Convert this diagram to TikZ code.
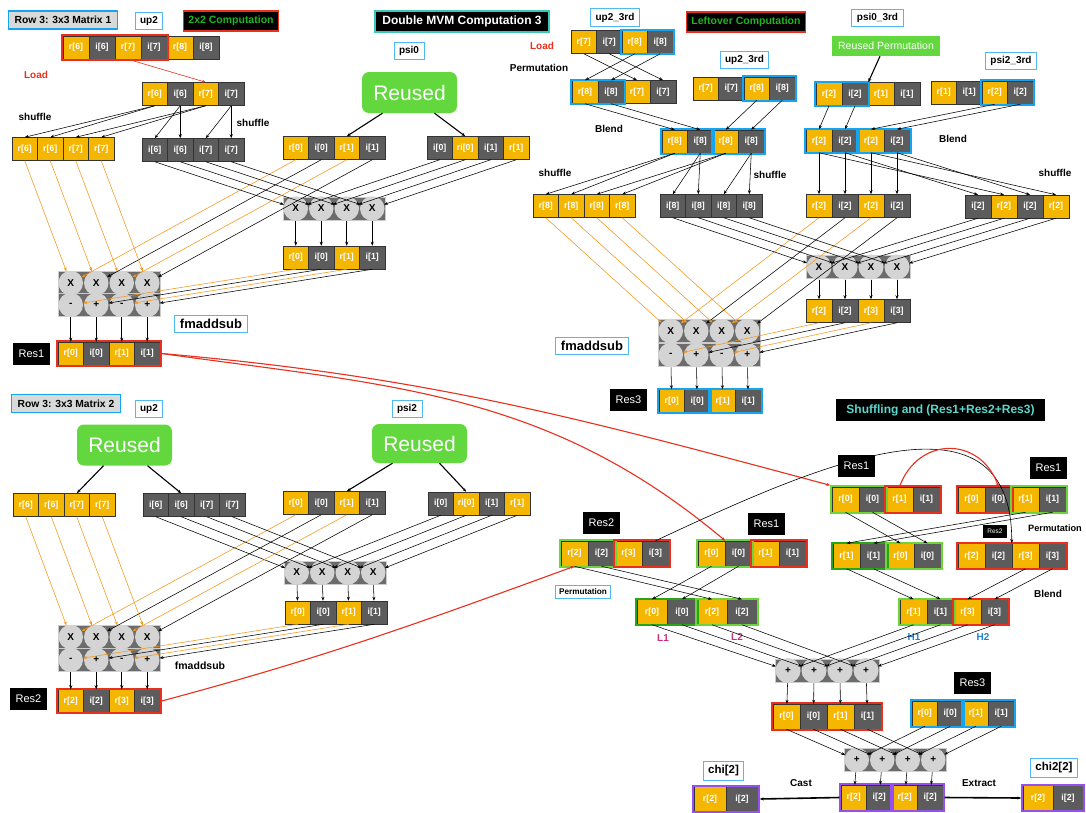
\documentclass[tikz,border=0pt]{standalone}
\usepackage{fontspec}
\setmainfont{Liberation Sans}
\usetikzlibrary{arrows.meta,fit}

\definecolor{ylw}{RGB}{245,182,0}
\definecolor{gry}{RGB}{92,92,92}
\definecolor{opgray}{RGB}{108,108,108}
\definecolor{circgray}{RGB}{212,212,212}
\definecolor{lblue}{RGB}{80,185,240}
\definecolor{bblue}{RGB}{20,165,240}
\definecolor{rred}{RGB}{232,48,28}
\definecolor{lgreen}{RGB}{110,212,60}
\definecolor{dgreen}{RGB}{40,165,25}
\definecolor{purp}{RGB}{150,80,240}
\definecolor{rgreen}{RGB}{98,216,62}
\definecolor{orng}{RGB}{245,150,25}
\definecolor{tealc}{RGB}{60,200,185}
\definecolor{tealtx}{RGB}{90,216,204}
\definecolor{ggreen}{RGB}{30,180,30}
\definecolor{mgnt}{RGB}{200,48,126}
\definecolor{hblue}{RGB}{30,128,208}

\newcommand{\cellh}{23pt}
\newcommand{\regrow}[5][25.5]{%
  \foreach \clr/\lbl [count=\k] in {#5}
    {\node[cell, fill=\clr, minimum width=#1pt] (#2-\k) at ({#3+(\k-0.5)*#1}, #4) {\lbl};}}
\newcommand{\opblock}[5][25.5]{%
  \node[opbg, minimum width=4*#1pt] (#2) at ({#3+2*#1}, #4) {};
  \foreach \sym [count=\k] in {#5}
    {\node[opcirc, minimum size=#1pt-1pt] (#2-\k) at ({#3+(\k-0.5)*#1}, #4) {\sym};}}

\begin{document}
\begin{tikzpicture}
        [x=1pt, y=-1pt, >={Stealth[length=4pt,width=3pt]},
         cell/.style={draw=black!80, line width=0.5pt, text=white, inner sep=0pt,
           minimum height=\cellh, font=\bfseries\fontsize{8.8}{9}\selectfont},
         opbg/.style={fill=opgray, draw=black!20, line width=0.8pt, inner sep=0pt, minimum height=23pt},
         opcirc/.style={circle, fill=circgray, inner sep=0pt, font=\bfseries\fontsize{10}{10}\selectfont},
         tag/.style={draw=lblue, line width=1pt, fill=white, inner xsep=5pt, inner ysep=4pt,
           font=\bfseries\fontsize{10}{11}\selectfont},
         hdrg/.style={draw=bblue, line width=1.5pt, fill=black!15, inner xsep=6pt, inner ysep=5pt,
           font=\bfseries\fontsize{10.3}{11}\selectfont},
         hdr/.style={fill=black, line width=1.5pt, inner xsep=5pt, inner ysep=5pt,
           font=\bfseries\fontsize{10.5}{11}\selectfont},
         resl/.style={fill=black, text=white, inner sep=3pt, minimum width=37pt, minimum height=22pt,
           font=\fontsize{11}{12}\selectfont},
         reuse/.style={fill=rgreen, rounded corners=7pt, text=white, minimum width=95pt,
           minimum height=41pt, font=\fontsize{21}{22}\selectfont},
         note/.style={font=\bfseries\fontsize{10}{11}\selectfont},
         grp/.style={draw=#1, line width=1.8pt, inner sep=0.5pt},
         arr/.style={->, line width=0.55pt},
         sharr/.style={->, line width=1.1pt},
         rarr/.style={->, draw=rred, line width=1.1pt},
         bigarr/.style={->, line width=1.6pt}]
        \path[use as bounding box, fill=white] (0,0) rectangle (1086,812);

        \node[hdrg] (h-m1) at (63,20) {Row 3: 3x3 Matrix 1};
        \node[tag] (t-up2a) at (149,21) {up2};
        \node[hdr, draw=rred, text=ggreen] (h-2x2) at (231,21) {2x2 Computation};
        \regrow[26]{t0}{63}{47.5}{ylw/r[6],gry/i[6],ylw/r[7],gry/i[7],ylw/r[8],gry/i[8]}
        \node[grp=rred, fit=(t0-1)(t0-4)] (t0b) {};
        \node[note, text=rred] (load1) at (36,75) {Load};
        \regrow{a2}{142}{94}{ylw/r[6],gry/i[6],ylw/r[7],gry/i[7]}
        \node[note] (shf1) at (35,117) {shuffle};
        \node[note] (shf2) at (253,123) {shuffle};
        \regrow{y1}{12}{149}{ylw/r[6],ylw/r[6],ylw/r[7],ylw/r[7]}
        \regrow{g1}{142}{150}{gry/i[6],gry/i[6],gry/i[7],gry/i[7]}
        \node[tag] (t-psi0) at (409,51) {psi0};
        \node[reuse] (ru1) at (409.5,92.5) {Reused};
        \regrow{p1}{283}{148}{ylw/r[0],gry/i[0],ylw/r[1],gry/i[1]}
        \regrow{q1}{427}{148}{gry/i[0],ylw/ri[0],gry/i[1],ylw/r[1]}
        \opblock{m1}{283}{208.5}{X,X,X,X}
        \regrow{r1}{283}{257.5}{ylw/r[0],gry/i[0],ylw/r[1],gry/i[1]}
        \opblock{fx1}{58}{283}{X,X,X,X}
        \opblock{fs1}{58}{305}{-,+,-,+}
        \regrow{res1}{58}{353.5}{ylw/r[0],gry/i[0],ylw/r[1],gry/i[1]}
        \node[grp=rred, fit=(res1-1)(res1-4)] (res1b) {};
        \node[resl] (l-res1a) at (31.5,354) {Res1};
        \node[tag, inner xsep=5.5pt, font=\bfseries\fontsize{13}{14}\selectfont] (t-fma1) at (211,324) {fmaddsub};

        \draw[rarr, line width=0.6pt] (t0-3.south) -- (a2-3.north);
        \foreach \s/\t in {1/1,1/2,3/3,3/4} {\draw[arr] (a2-\s.south) -- (y1-\t.north);}
        \foreach \s/\t in {2/1,2/2,4/3,4/4} {\draw[arr] (a2-\s.south) -- (g1-\t.north);}
        \draw[sharr] ([xshift=-27pt]ru1.south) -- (p1-3.north);
        \draw[sharr] ([xshift=25pt]ru1.south) -- (q1-2.north);
        \foreach \k/\clr in {1/orng,2/black,3/orng,4/black} {
          \draw[arr, orng] (y1-\k.south) -- (fx1-\k);
          \draw[arr, \clr] (p1-\k.south) -- (fx1-\k);
          \draw[arr] (g1-\k.south) -- (m1-\k);
          \draw[arr] (q1-\k.south) -- (m1-\k);
          \draw[arr] (m1-\k) -- (r1-\k);
          \draw[arr, \clr] (r1-\k.south) -- (fs1-\k);
          \draw[arr] (fs1-\k) -- (res1-\k);
        }

        \node[hdrg] (h-m2) at (66,403.5) {Row 3: 3x3 Matrix 2};
        \node[tag] (t-up2b) at (149,409) {up2};
        \node[reuse] (ru2) at (124.5,445) {Reused};
        \node[tag] (t-psi2) at (407,409) {psi2};
        \node[reuse, minimum height=39pt] (ru3) at (419.5,443.5) {Reused};
        \regrow{y2}{13}{505}{ylw/r[6],ylw/r[6],ylw/r[7],ylw/r[7]}
        \regrow{g2}{143}{505}{gry/i[6],gry/i[6],gry/i[7],gry/i[7]}
        \regrow{p2}{283}{503}{ylw/r[0],gry/i[0],ylw/r[1],gry/i[1]}
        \regrow{q2}{428}{503.5}{gry/i[0],ylw/ri[0],gry/i[1],ylw/r[1]}
        \opblock{m2}{284}{572.5}{X,X,X,X}
        \regrow{r2}{285}{612.5}{ylw/r[0],gry/i[0],ylw/r[1],gry/i[1]}
        \opblock{fx2}{58}{637}{X,X,X,X}
        \opblock{fs2}{58}{660}{-,+,-,+}
        \regrow{res2}{58}{701}{ylw/r[2],gry/i[2],ylw/r[3],gry/i[3]}
        \node[grp=rred, fit=(res2-1)(res2-4)] (res2b) {};
        \node[resl] (l-res2a) at (28.5,699) {Res2};
        \node[note, font=\bfseries\fontsize{10.5}{11}\selectfont] (fma2) at (200,666) {fmaddsub};

        \draw[sharr] ([xshift=-21pt]ru2.south) -- (y2-3.north);
        \draw[sharr] ([xshift=23pt]ru2.south) -- (g2-2.north);
        \draw[sharr] ([xshift=-27pt]ru3.south) -- (p2-3.north);
        \draw[sharr] ([xshift=20pt]ru3.south) -- (q2-2.north);
        \foreach \k/\clr in {1/orng,2/black,3/orng,4/black} {
          \draw[arr, orng] (y2-\k.south) -- (fx2-\k);
          \draw[arr, \clr] (p2-\k.south) -- (fx2-\k);
          \draw[arr] (g2-\k.south) -- (m2-\k);
          \draw[arr] (q2-\k.south) -- (m2-\k);
          \draw[arr] (m2-\k) -- (r2-\k);
          \draw[arr, \clr] (r2-\k.south) -- (fs2-\k);
          \draw[arr] (fs2-\k) -- (res2-\k);
        }

        \node[hdr, draw=tealc, text=white, inner xsep=7.5pt, font=\bfseries\fontsize{12}{13}\selectfont] (h-dmvm) at (462,21.5) {Double MVM Computation 3};
        \node[tag] (t-up2c) at (615,17.5) {up2\_3rd};
        \node[hdr, draw=rred, text=ggreen] (h-left) at (746,22) {Leftover Computation};
        \node[note, text=rred] (load2) at (542,46) {Load};
        \node[note] (perm1) at (539,68) {Permutation};
        \regrow{u1}{571}{42}{ylw/r[7],gry/i[7],ylw/r[8],gry/i[8]}
        \node[grp=bblue, fit=(u1-3)(u1-4)] (u1b) {};
        \regrow[26]{u2}{572}{92}{ylw/r[8],gry/i[8],ylw/r[7],gry/i[7]}
        \node[grp=bblue, fit=(u2-1)(u2-2)] (u2b) {};
        \node[tag] (t-up2d) at (744.5,60) {up2\_3rd};
        \regrow{u3}{693}{88.5}{ylw/r[7],gry/i[7],ylw/r[8],gry/i[8]}
        \node[grp=bblue, fit=(u3-3)(u3-4)] (u3b) {};
        \node[note] (blend1) at (609,129) {Blend};
        \regrow{b8}{662}{141.5}{ylw/r[8],gry/i[8],ylw/r[8],gry/i[8]}
        \node[grp=bblue, fit=(b8-1)(b8-2)] (b8a) {};
        \node[grp=bblue, fit=(b8-3)(b8-4)] (b8b) {};
        \node[note] (shf3) at (555,173) {shuffle};
        \node[note] (shf4) at (770,175) {shuffle};
        \regrow{y3}{533}{206}{ylw/r[8],ylw/r[8],ylw/r[8],ylw/r[8]}
        \regrow{g3}{660}{206}{gry/i[8],gry/i[8],gry/i[8],gry/i[8]}
        \node[tag] (t-psi0c) at (877.5,18) {psi0\_3rd};
        \node[fill=rgreen, text=white, minimum width=108pt, minimum height=20pt, inner sep=0pt,
          font=\fontsize{10.5}{11}\selectfont] (ru4) at (886,46) {Reused Permutation};
        \regrow[26]{v1}{816}{94}{ylw/r[2],gry/i[2],ylw/r[1],gry/i[1]}
        \node[grp=bblue, fit=(v1-1)(v1-2)] (v1b) {};
        \node[tag] (t-psi2c) at (1011,61) {psi2\_3rd};
        \regrow{v2}{931}{92.5}{ylw/r[1],gry/i[1],ylw/r[2],gry/i[2]}
        \node[grp=bblue, fit=(v2-3)(v2-4)] (v2b) {};
        \regrow[26]{b2}{806}{141}{ylw/r[2],gry/i[2],ylw/r[2],gry/i[2]}
        \node[grp=bblue, fit=(b2-1)(b2-2)] (b2a) {};
        \node[grp=bblue, fit=(b2-3)(b2-4)] (b2b) {};
        \node[note] (blend2) at (953,139) {Blend};
        \node[note] (shf5) at (1055,173) {shuffle};
        \regrow[26]{w1}{806}{206}{ylw/r[2],gry/i[2],ylw/r[2],gry/i[2]}
        \regrow[26]{w2}{965}{206.5}{gry/i[2],ylw/r[2],gry/i[2],ylw/r[2]}
        \opblock[26]{m3}{806}{267}{X,X,X,X}
        \regrow[26]{r3}{806}{311}{ylw/r[2],gry/i[2],ylw/r[3],gry/i[3]}
        \opblock{fx3}{658}{331}{X,X,X,X}
        \opblock{fs3}{658}{355}{-,+,-,+}
        \regrow{res3}{659}{401}{ylw/r[0],gry/i[0],ylw/r[1],gry/i[1]}
        \node[grp=bblue, fit=(res3-1)(res3-2)] (res3a) {};
        \node[grp=bblue, fit=(res3-3)(res3-4)] (res3b) {};
        \node[resl] (l-res3a) at (628.5,400) {Res3};
        \node[tag, inner xsep=5.5pt, font=\bfseries\fontsize{13}{14}\selectfont] (t-fma3) at (592,346) {fmaddsub};

        \foreach \s/\t in {1/3,2/4,3/1,4/2} {\draw[arr] (u1-\s.south) -- (u2-\t.north);}
        \draw[arr] (u2-1.south) -- (b8-1.north);
        \draw[arr] (u2-2.south) -- (b8-2.north);
        \draw[arr] (u3-3.south) -- (b8-3.north);
        \draw[arr] (u3-4.south) -- (b8-4.north);
        \foreach \s/\t in {1/1,1/2,3/3,3/4} {\draw[arr] (b8-\s.south) -- (y3-\t.north);}
        \foreach \s/\t in {2/1,2/2,4/3,4/4} {\draw[arr] (b8-\s.south) -- (g3-\t.north);}
        \draw[sharr] ([xshift=-6pt]ru4.south) -- (v1-2.north east);
        \draw[arr] (v1-1.south) -- (b2-1.north);
        \draw[arr] (v1-2.south) -- (b2-2.north);
        \draw[arr] (v2-3.south) -- (b2-3.north);
        \draw[arr] (v2-4.south) -- (b2-4.north);
        \foreach \k in {1,...,4} {\draw[arr] (b2-\k.south) -- (w1-\k.north);}
        \foreach \s/\t in {1/2,2/1,3/4,4/3} {\draw[arr] (b2-\s.south) -- (w2-\t.north);}
        \foreach \k/\clr in {1/orng,2/black,3/orng,4/black} {
          \draw[arr, orng] (y3-\k.south) -- (fx3-\k);
          \draw[arr, \clr] (w1-\k.south) -- (fx3-\k);
          \draw[arr] (g3-\k.south) -- (m3-\k);
          \draw[arr] (w2-\k.south) -- (m3-\k);
          \draw[arr] (m3-\k) -- (r3-\k);
          \draw[arr, \clr] (r3-\k.south) -- (fs3-\k);
          \draw[arr] (fs3-\k) -- (res3-\k);
        }

        \renewcommand{\cellh}{25pt}
        \node[hdr, text=tealtx, inner xsep=10pt, font=\bfseries\fontsize{12}{13}\selectfont] (h-shuf) at (940.5,410) {Shuffling and (Res1+Res2+Res3)};
        \node[resl] (l-res1b) at (856.5,466) {Res1};
        \regrow[27]{s1}{832}{499.5}{ylw/r[0],gry/i[0],ylw/r[1],gry/i[1]}
        \node[grp=lgreen, fit=(s1-1)(s1-2)] (s1a) {};
        \node[grp=rred, fit=(s1-3)(s1-4)] (s1b) {};
        \node[resl] (l-res1c) at (1048.5,468) {Res1};
        \regrow[27]{s2}{958}{499.5}{ylw/r[0],gry/i[0],ylw/r[1],gry/i[1]}
        \node[grp=rred, fit=(s2-1)(s2-2)] (s2a) {};
        \node[grp=lgreen, fit=(s2-3)(s2-4)] (s2b) {};
        \node[resl] (l-res2b) at (601.5,523) {Res2};
        \regrow[27]{e2}{561}{553.5}{ylw/r[2],gry/i[2],ylw/r[3],gry/i[3]}
        \node[grp=lgreen, fit=(e2-1)(e2-2)] (e2a) {};
        \node[grp=rred, fit=(e2-3)(e2-4)] (e2b) {};
        \node[resl] (l-res1d) at (766.5,524) {Res1};
        \regrow[27]{e1}{698}{553.5}{ylw/r[0],gry/i[0],ylw/r[1],gry/i[1]}
        \node[grp=lgreen, fit=(e1-1)(e1-2)] (e1a) {};
        \node[grp=rred, fit=(e1-3)(e1-4)] (e1b) {};
        \regrow[27]{dl}{833}{556}{ylw/r[1],gry/i[1],ylw/r[0],gry/i[0]}
        \node[grp=dgreen, fit=(dl-1)(dl-2)] (dla) {};
        \node[grp=lgreen, fit=(dl-3)(dl-4)] (dlb) {};
        \regrow[27]{dr}{958}{556}{ylw/r[2],gry/i[2],ylw/r[3],gry/i[3]}
        \node[grp=rred, fit=(dr-1)(dr-4)] (drb) {};
        \node[resl, minimum width=24pt, minimum height=13pt, inner sep=1.5pt, font=\fontsize{6.5}{7}\selectfont] (l-res2c) at (995,531.5) {Res2};
        \node[note, font=\bfseries\fontsize{9.2}{10}\selectfont] (perm2) at (1055,528) {Permutation};
        \node[tag, inner xsep=4pt, inner ysep=3.5pt, font=\bfseries\fontsize{8.2}{9}\selectfont] (t-perm) at (583,592) {Permutation};
        \regrow[30]{lr}{637}{612}{ylw/r[0],gry/i[0],ylw/r[2],gry/i[2]}
        \node[grp=dgreen, fit=(lr-1)(lr-2)] (lra) {};
        \node[grp=lgreen, fit=(lr-3)(lr-4)] (lrb) {};
        \regrow[27]{hr}{900}{612}{ylw/r[1],gry/i[1],ylw/r[3],gry/i[3]}
        \node[grp=lgreen, fit=(hr-1)(hr-2)] (hra) {};
        \node[grp=rred, fit=(hr-3)(hr-4)] (hrb) {};
        \node[note, text=mgnt] (lab-l1) at (663,638) {L1};
        \node[note, text=mgnt] (lab-l2) at (737,637) {L2};
        \node[note, text=hblue] (lab-h1) at (914,637) {H1};
        \node[note, text=hblue] (lab-h2) at (983,637) {H2};
        \node[note] (blend3) at (1048,594) {Blend};
        \opblock[26]{pp}{775}{670.5}{+,+,+,+}
        \regrow[27]{rr}{773}{716.5}{ylw/r[0],gry/i[0],ylw/r[1],gry/i[1]}
        \node[grp=rred, fit=(rr-1)(rr-4)] (rrb) {};
        \node[resl] (l-res3b) at (972.5,683) {Res3};
        \regrow{r3d}{912}{713.5}{ylw/r[0],gry/i[0],ylw/r[1],gry/i[1]}
        \node[grp=bblue, fit=(r3d-1)(r3d-2)] (r3da) {};
        \node[grp=bblue, fit=(r3d-3)(r3d-4)] (r3db) {};
        \opblock{pq}{844}{760}{+,+,+,+}
        \regrow{fr}{841}{797.5}{ylw/r[2],gry/i[2],ylw/r[2],gry/i[2]}
        \node[grp=purp, fit=(fr-1)(fr-2)] (fra) {};
        \node[grp=purp, fit=(fr-3)(fr-4)] (frb) {};
        \node[tag, font=\bfseries\fontsize{11.5}{12}\selectfont] (t-chi) at (723.5,771) {chi[2]};
        \regrow[32]{chi}{694}{799}{ylw/r[2],gry/i[2]}
        \node[grp=purp, fit=(chi-1)(chi-2)] (chia) {};
        \node[note] (cast) at (801,783) {Cast};
        \node[note] (extr) at (979,783) {Extract};
        \node[tag, font=\bfseries\fontsize{11.5}{12}\selectfont] (t-chi2) at (1054,768) {chi2[2]};
        \regrow[30]{chib}{1023}{798}{ylw/r[2],gry/i[2]}
        \node[grp=purp, fit=(chib-1)(chib-2)] (chiba) {};

        \draw[rarr] (res1b.east) to[out=-5, in=165] (s1a.north west);
        \draw[rarr] (res1b.east) to[out=-8, in=140] (e1-1.north east);
        \draw[rarr] (res2b.east) to[out=15, in=200] (e2-1.south);
        \draw[arr, line width=0.6pt] (e2-4.north) to[out=25, in=90, looseness=1.2] (dr-3.north west);
        \draw[rarr] (s1-3.north) to[out=70, in=110, looseness=1.4] (s2-2.north);
        \draw[arr] (s2-3.south) -- (dl-1.north);
        \draw[arr] (s2-4.south) -- (dl-2.north);
        \draw[arr] (s1-1.south) -- (dl-3.north);
        \draw[arr] (s1-2.south) -- (dl-4.north);
        \draw[arr] (dl-1.south) -- (hr-1.north);
        \draw[arr] (dl-2.south) -- (hr-2.north);
        \draw[arr] (dr-3.south) -- (hr-3.north);
        \draw[arr] (dr-4.south) -- (hr-4.north);
        \draw[arr] (e1-1.south) -- (lr-1.north);
        \draw[arr] (e1-2.south) -- (lr-2.north);
        \draw[arr] (e2-1.south) -- (lr-3.north);
        \draw[arr] (e2-2.south) -- (lr-4.north);
        \foreach \k in {1,...,4} {
          \draw[arr] (lr-\k.south) -- (pp-\k);
          \draw[arr] (hr-\k.south) -- (pp-\k);
          \draw[arr] (pp-\k) -- (rr-\k);
          \draw[arr] (rr-\k.south) -- (pq-\k);
          \draw[arr] (r3d-\k.south) -- (pq-\k);
          \draw[arr] (pq-\k) -- (fr-\k);
        }
        \draw[bigarr] (fra.west) -- (chia.east);
        \draw[bigarr] (frb.east) -- (chiba.west);
    \end{tikzpicture}
\end{document}
